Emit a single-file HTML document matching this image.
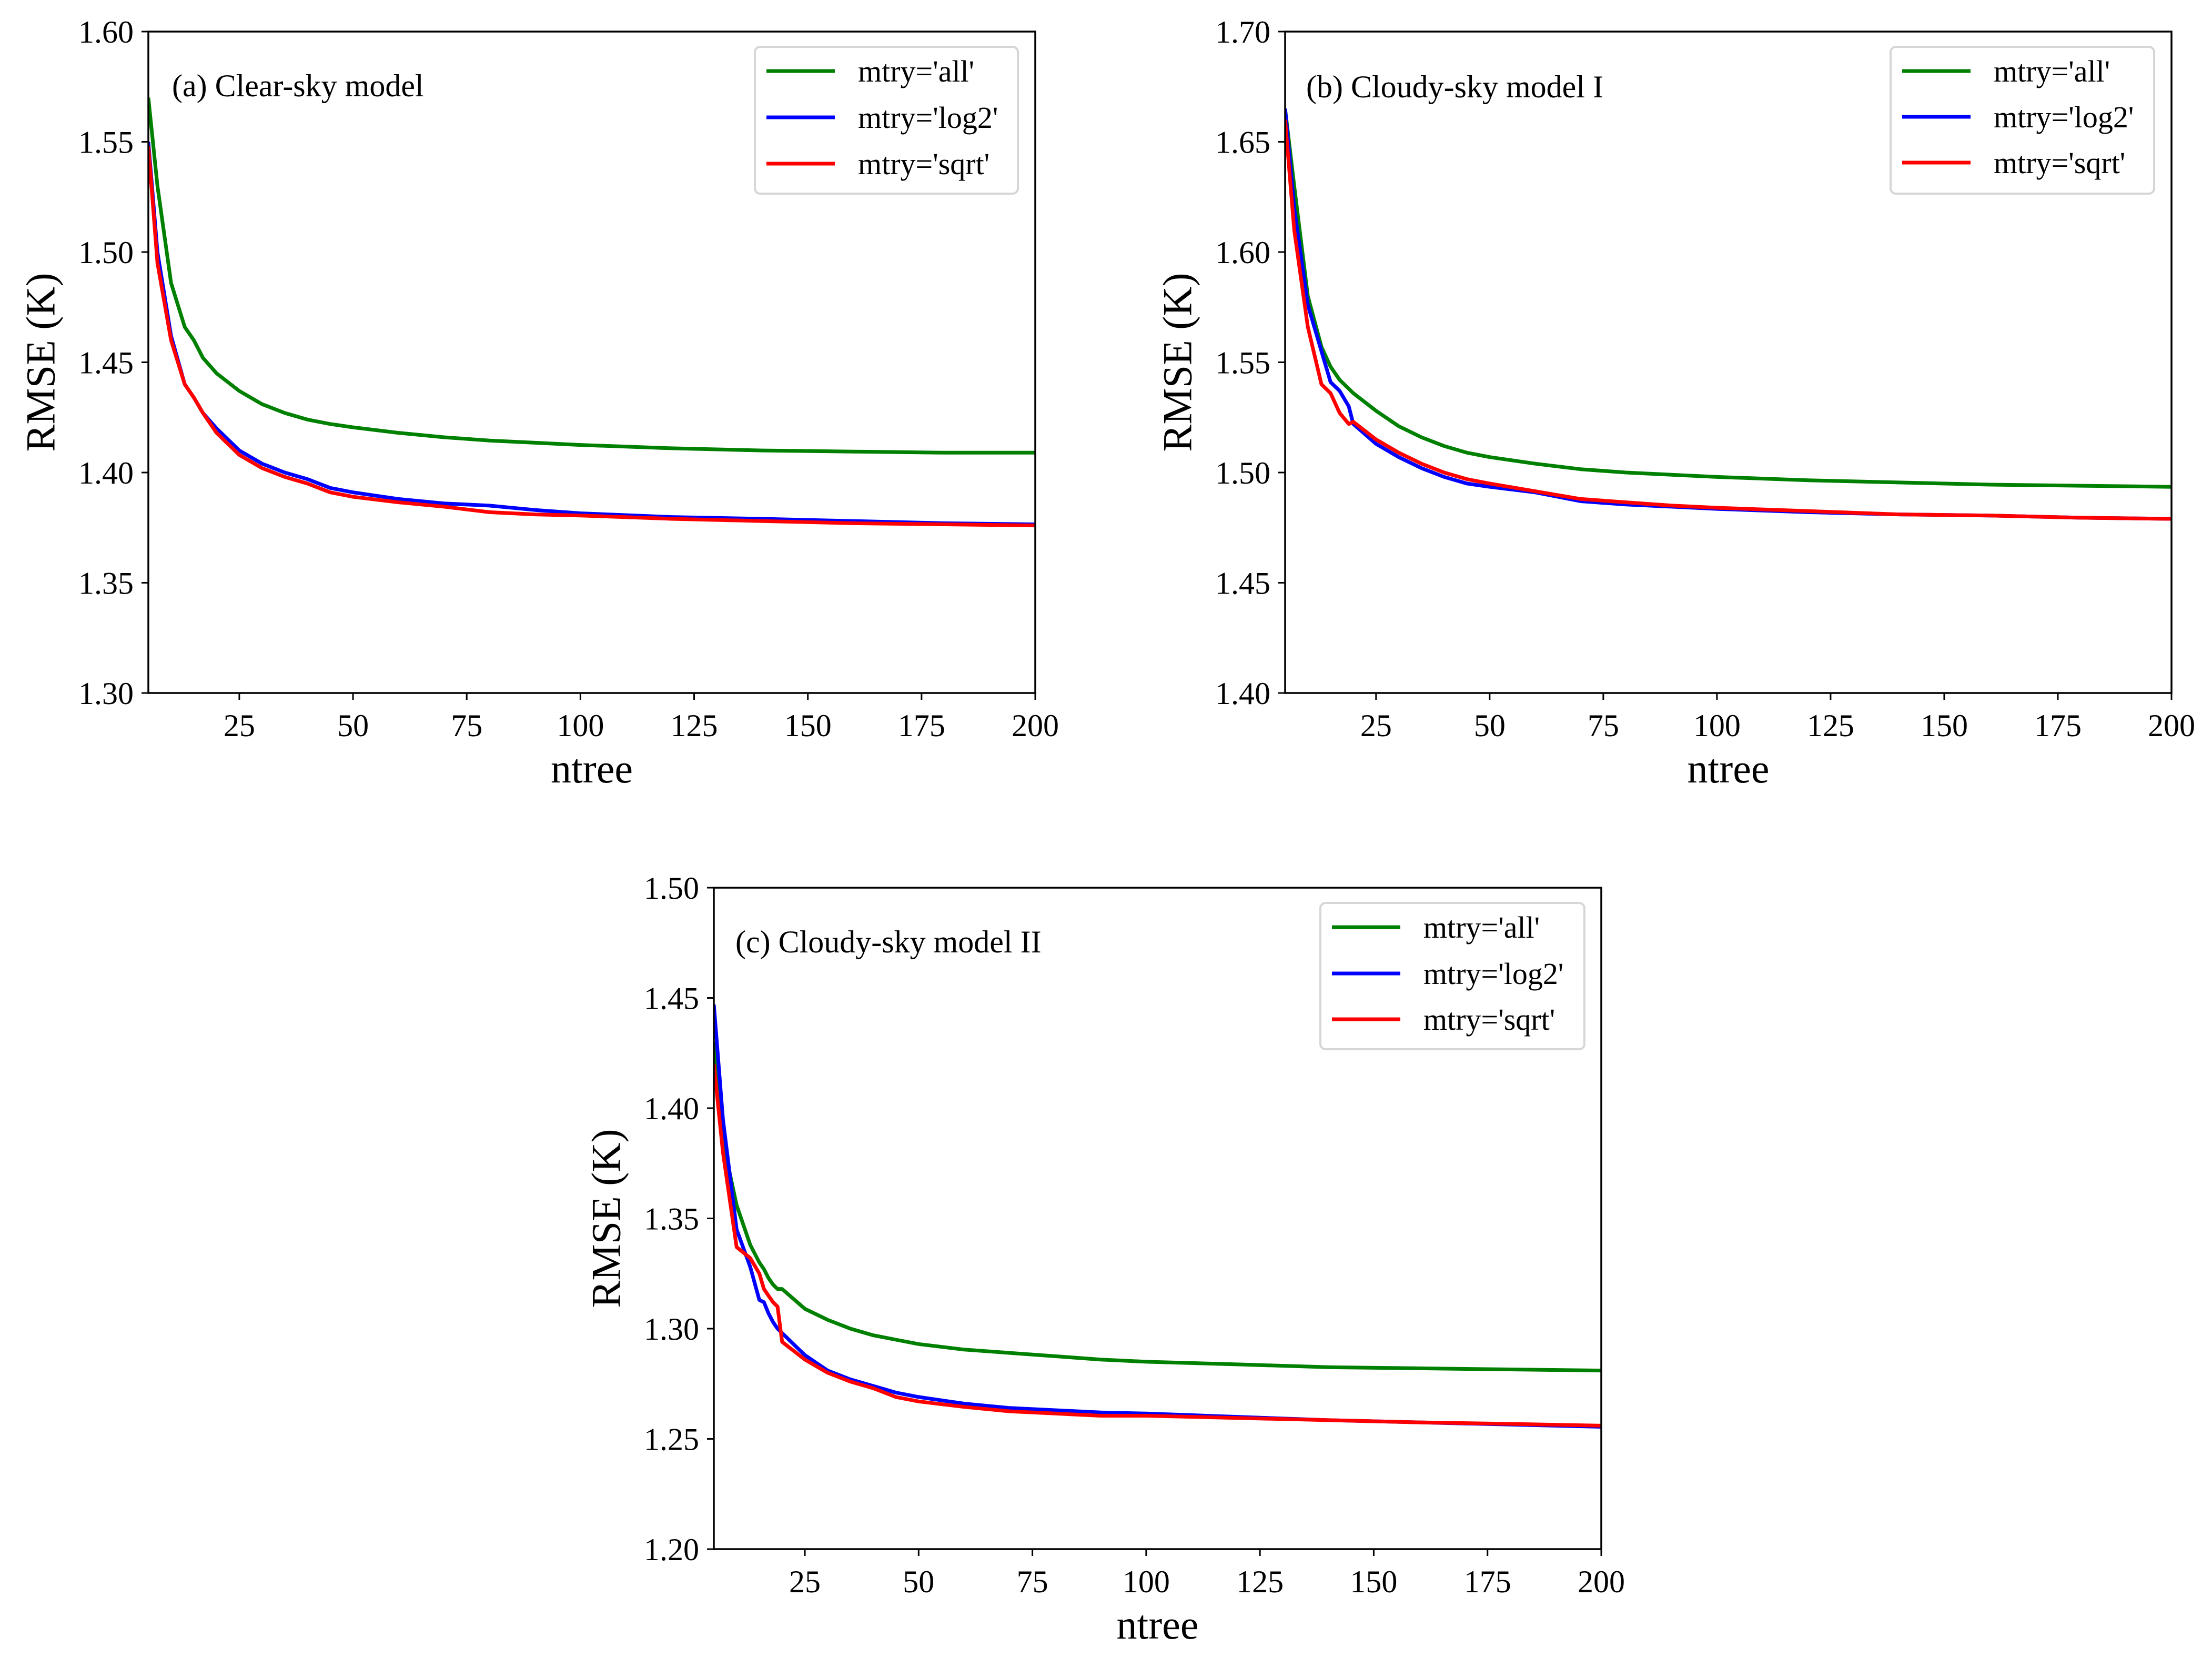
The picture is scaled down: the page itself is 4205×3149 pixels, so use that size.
<!DOCTYPE html>
<html><head><meta charset="utf-8"><style>
html,body{margin:0;padding:0;background:#fff;}
svg{display:block;font-family:"Liberation Serif",serif;}
</style></head><body>
<svg id="fig" width="4205" height="3149" viewBox="0 0 4205 3149" xmlns="http://www.w3.org/2000/svg"></svg>
<script>
// Panel (a) data
const xA=[5,7,10,13,15,17,20,25,30,35,40,45,50,60,70,80,90,100,120,140,160,180,200];
const aAll=[1.57,1.53,1.486,1.466,1.46,1.452,1.445,1.437,1.431,1.427,1.424,1.422,1.4205,1.418,1.416,1.4145,1.4135,1.4125,1.411,1.410,1.4095,1.409,1.409];
const aLog2=[1.55,1.50,1.462,1.44,1.434,1.427,1.42,1.41,1.404,1.40,1.397,1.393,1.391,1.388,1.386,1.385,1.383,1.3815,1.3798,1.379,1.378,1.377,1.3765];
const aSqrt=[1.548,1.495,1.46,1.44,1.434,1.427,1.418,1.408,1.402,1.398,1.395,1.391,1.389,1.3865,1.3845,1.382,1.381,1.3805,1.379,1.378,1.377,1.3765,1.376];
// Panel (b) data
const xB=[5,7,10,13,15,17,19,20,25,30,35,40,45,50,60,70,80,90,100,120,140,160,180,200];
const bAll=[1.665,1.63,1.58,1.557,1.548,1.542,1.538,1.536,1.528,1.521,1.516,1.512,1.509,1.507,1.504,1.5015,1.5,1.499,1.498,1.4965,1.4955,1.4945,1.494,1.4935];
const bLog2=[1.665,1.62,1.576,1.555,1.541,1.537,1.53,1.522,1.513,1.507,1.502,1.498,1.495,1.4935,1.491,1.487,1.4855,1.4845,1.4835,1.482,1.481,1.4805,1.4795,1.479];
const bSqrt=[1.66,1.61,1.566,1.54,1.536,1.527,1.522,1.523,1.515,1.509,1.504,1.5,1.497,1.495,1.4915,1.488,1.4865,1.485,1.484,1.4825,1.481,1.4805,1.4795,1.479];
// Panel (c) data
const xC=[5,7,10,13,15,16,17,18,19,20,25,30,35,40,45,50,60,70,80,90,100,120,140,160,180,200];
const cAll=[1.43,1.385,1.356,1.338,1.33,1.327,1.323,1.32,1.318,1.318,1.309,1.304,1.3,1.297,1.295,1.293,1.2905,1.289,1.2875,1.286,1.285,1.2838,1.2825,1.282,1.2815,1.281];
const cLog2=[1.447,1.395,1.345,1.328,1.313,1.312,1.307,1.303,1.3,1.298,1.288,1.281,1.277,1.274,1.271,1.269,1.266,1.264,1.263,1.262,1.2615,1.26,1.2585,1.2575,1.2565,1.2555];
const cSqrt=[1.42,1.38,1.337,1.332,1.325,1.318,1.315,1.312,1.31,1.294,1.286,1.28,1.276,1.273,1.269,1.267,1.2645,1.2625,1.2615,1.2605,1.2605,1.2595,1.2585,1.2575,1.2568,1.256];
const xTicks=[25,50,75,100,125,150,175,200];
const ticksA=["1.30","1.35","1.40","1.45","1.50","1.55","1.60"];
const ticksB=["1.40","1.45","1.50","1.55","1.60","1.65","1.70"];
const ticksC=["1.20","1.25","1.30","1.35","1.40","1.45","1.50"];
const seriesNames=["mtry='all'","mtry='log2'","mtry='sqrt'"];
const colors=["#008000","#0000ff","#ff0000"];

const NS="http://www.w3.org/2000/svg";
const svg=document.getElementById('fig');
function mk(tag,attrs,parent){const e=document.createElementNS(NS,tag);for(const k in attrs)e.setAttribute(k,attrs[k]);(parent||svg).appendChild(e);return e;}

function panel(id,box,yTicks,xs,ys,title,leg){
  const g=mk('g',{});
  
  
  const y0=parseFloat(yTicks[0]),y1=parseFloat(yTicks[yTicks.length-1]);
  const sx=v=>box.l+(v-5)/(200-5)*(box.r-box.l);
  const sy=v=>box.b-(v-y0)/(y1-y0)*(box.b-box.t);
  // series
  ys.forEach((arr,i)=>{
    const d=arr.map((v,j)=>(j?'L':'M')+sx(xs[j]).toFixed(1)+' '+sy(v).toFixed(1)).join(' ');
    const p=mk('path',{d:d,fill:'none',stroke:colors[i],'stroke-width':7,'stroke-linejoin':'round','clip-path':'url(#clip-'+id+')'},g);
    
    
  });
  const cp=mk('clipPath',{id:'clip-'+id},g);
  mk('rect',{x:box.l,y:box.t,width:box.r-box.l,height:box.b-box.t},cp);
  // frame
  const fr=mk('rect',{x:box.l,y:box.t,width:box.r-box.l,height:box.b-box.t,fill:'none',stroke:'#000','stroke-width':3.5},g);
  
  
  // y ticks
  yTicks.forEach(t=>{
    const y=sy(parseFloat(t));
    mk('line',{x1:box.l-13,x2:box.l,y1:y,y2:y,stroke:'#000','stroke-width':3},g);
    const tx=mk('text',{x:box.l-28,y:y+21,'font-size':60,'text-anchor':'end'},g);
    tx.textContent=t;
    
    
  });
  xTicks.forEach(t=>{
    const x=sx(t);
    mk('line',{x1:x,x2:x,y1:box.b,y2:box.b+13,stroke:'#000','stroke-width':3},g);
    const tx=mk('text',{x:x,y:box.b+82,'font-size':60,'text-anchor':'middle'},g);
    tx.textContent=String(t);
    
    
  });
  const xl=mk('text',{x:(box.l+box.r)/2,y:box.b+170,'font-size':78,'text-anchor':'middle'},g);
  xl.textContent='ntree';
  
  
  const cy=(box.t+box.b)/2, cx=box.l-205;
  const yl=mk('text',{x:cx,y:cy,'font-size':78,'text-anchor':'middle',transform:'rotate(-90 '+cx+' '+cy+')','dominant-baseline':'central'},g);
  yl.textContent='RMSE (K)';
  
  
  const an=mk('text',{x:title.x,y:title.y,'font-size':60},g);
  an.textContent=title.t;
  
  
  // legend
  const lg=mk('g',{},g);
  
  
  mk('rect',{x:leg.l,y:leg.t,width:leg.r-leg.l,height:leg.b-leg.t,rx:10,fill:'#fff','fill-opacity':0.8,stroke:'#d6d6d6','stroke-width':4},lg);
  seriesNames.forEach((n,i)=>{
    const ry=leg.rows[i];
    mk('line',{x1:leg.l+22,x2:leg.l+152,y1:ry,y2:ry,stroke:colors[i],'stroke-width':7},lg);
    const t=mk('text',{x:leg.l+196,y:ry+20,'font-size':58},lg);
    t.textContent=n;
    
    
  });
}
panel('a',{l:282,r:1968,t:60,b:1317},ticksA,xA,[aAll,aLog2,aSqrt],{x:327,y:183,t:'(a) Clear-sky model'},{l:1435,r:1935,t:89,b:368,rows:[135,223,311]});
panel('b',{l:2443,r:4128,t:60,b:1317},ticksB,xB,[bAll,bLog2,bSqrt],{x:2483,y:185,t:'(b) Cloudy-sky model I'},{l:3594,r:4095,t:89,b:368,rows:[135,222,309]});
panel('c',{l:1357,r:3044,t:1687,b:2944},ticksC,xC,[cAll,cLog2,cSqrt],{x:1398,y:1810,t:'(c) Cloudy-sky model II'},{l:2510,r:3012,t:1716,b:1994,rows:[1762,1850,1937]});
</script>
</body></html>
